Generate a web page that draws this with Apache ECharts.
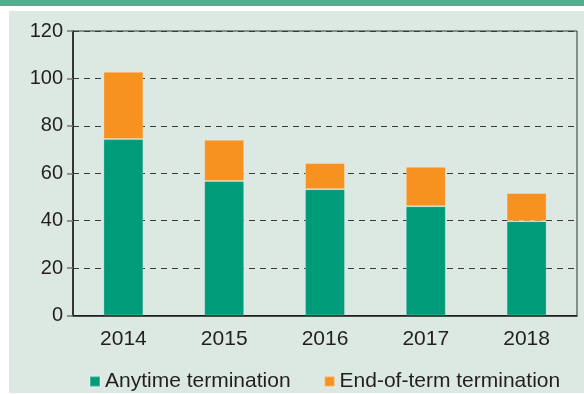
<!DOCTYPE html>
<html>
<head>
<meta charset="utf-8">
<script src="https://cdn.jsdelivr.net/npm/echarts@6/dist/echarts.min.js"></script>
<style>
  html, body { margin: 0; padding: 0; background: #ffffff; }
  #topbar { position: absolute; left: 0; top: 0; width: 584px; height: 6px; background: #56ab8d; }
  #panel { position: absolute; left: 9px; top: 11px; width: 575px; height: 382px; background: #dce8e2; }
  #chart { position: absolute; left: 0; top: 0; width: 584px; height: 394px; }
</style>
</head>
<body>
<div id="topbar"></div>
<div id="panel"></div>
<div id="chart"></div>
<script>
// Terminations per year, split by type
const years = ['2014', '2015', '2016', '2017', '2018'];
const anytimeTermination = [74.4, 56.7, 53.3, 46.1, 39.8];
const endOfTermTermination = [28.4, 17.4, 11.0, 16.6, 11.9];
const yTicks = { min: 0, max: 120, interval: 20 };

const textColor = '#231f20';
const fontFamily = '"Liberation Sans", Arial, Helvetica, sans-serif';

const chart = echarts.init(document.getElementById('chart'), null, { renderer: 'canvas' });
chart.setOption({
  backgroundColor: 'transparent',
  animation: false,
  textStyle: { fontFamily: fontFamily, color: textColor },
  grid: {
    left: 73, top: 31, right: 7, bottom: 78.5,
    show: true, borderColor: '#333333', borderWidth: 1, backgroundColor: 'transparent'
  },
  legend: {
    left: 84, top: 366,
    itemWidth: 10, itemHeight: 10, itemGap: 33,
    icon: 'rect',
    textStyle: { fontSize: 21, color: textColor, fontFamily: fontFamily },
    data: ['Anytime termination', 'End-of-term termination']
  },
  xAxis: {
    type: 'category',
    data: years,
    axisLine: { show: true, lineStyle: { color: '#1a1a1a', width: 1.5 } },
    axisTick: { show: false },
    axisLabel: { fontSize: 21, color: textColor, margin: 13, fontFamily: fontFamily },
    splitLine: { show: false }
  },
  yAxis: {
    type: 'value',
    min: yTicks.min, max: yTicks.max, interval: yTicks.interval,
    axisLine: { show: true, lineStyle: { color: '#1a1a1a', width: 1.5 } },
    axisTick: { show: true, length: 6, lineStyle: { color: '#777777', width: 1.5 } },
    axisLabel: { fontSize: 20, color: textColor, margin: 10, fontFamily: fontFamily },
    splitLine: { show: true, lineStyle: { color: '#3a3a3a', type: [6, 5], width: 1.2 } }
  },
  series: [
    {
      name: 'Anytime termination',
      type: 'bar',
      stack: 'total',
      barWidth: 40,
      data: anytimeTermination,
      itemStyle: { color: '#009b78', borderColor: 'rgba(255,255,255,0.25)', borderWidth: 1 }
    },
    {
      name: 'End-of-term termination',
      type: 'bar',
      stack: 'total',
      barWidth: 40,
      data: endOfTermTermination,
      itemStyle: { color: '#f7911f', borderColor: 'rgba(255,255,255,0.25)', borderWidth: 1 }
    }
  ]
});
</script>
</body>
</html>
